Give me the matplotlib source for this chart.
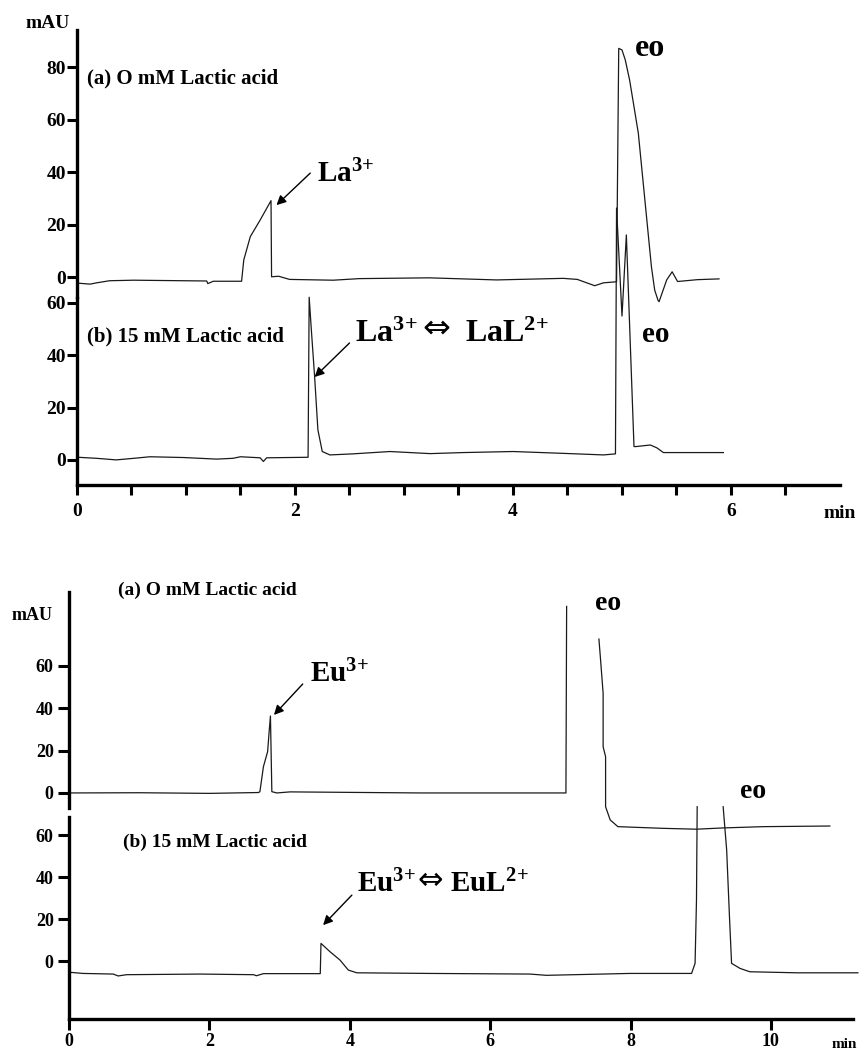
import numpy as np
import matplotlib.pyplot as plt

plt.rcParams['font.family'] = ['Liberation Serif', 'DejaVu Serif']
plt.rcParams['font.weight'] = 'bold'
plt.rcParams['mathtext.fontset'] = 'custom'
plt.rcParams['mathtext.rm'] = 'Liberation Serif:bold'
plt.rcParams['mathtext.bf'] = 'Liberation Serif:bold'
plt.rcParams['mathtext.it'] = 'Liberation Serif:bold'

nan = np.nan

# La3+ electropherograms, 0 mM lactic acid (trace a)
la_a_t = [0.0, 0.12, 0.18, 0.30, 0.52, 1.19, 1.20, 1.25, 1.51, 1.53, 1.59, 1.68, 1.78,
          1.785, 1.85, 1.95, 2.35, 2.59, 3.23, 3.85, 4.46, 4.59, 4.75, 4.83, 4.95,
          4.97, 5.00, 5.03, 5.07, 5.11, 5.15, 5.18, 5.21, 5.24, 5.27, 5.30, 5.33, 5.34,
          5.41, 5.46, 5.51, 5.69, 5.89]
la_a_y = [-2.3, -2.7, -2.2, -1.4, -1.2, -1.5, -2.5, -1.6, -1.6, 6.5, 15.4, 21.7, 29.1,
          0.1, 0.3, -0.9, -1.2, -0.6, -0.3, -1.1, -0.5, -0.9, -3.3, -2.2, -1.8,
          87.1, 86.5, 82.7, 75.0, 64.9, 54.7, 42.0, 29.3, 16.6, 3.9, -5.0, -8.8, -9.4,
          -1.1, 2.0, -1.7, -1.0, -0.7]

# La3+, 15 mM lactic acid (trace b)
la_b_t = [0.01, 0.18, 0.36, 0.52, 0.67, 0.98, 1.28, 1.43, 1.50, 1.68, 1.71, 1.74, 2.12,
          2.13, 2.15, 2.18, 2.21, 2.25, 2.32, 2.53, 2.87, 3.24, 3.54, 4.00, 4.46, 4.83,
          4.94, 4.95, 5.00, 5.04, 5.11, 5.13, 5.26, 5.32, 5.38, 5.69, 5.93]
la_b_y = [1.0, 0.6, 0.0, 0.6, 1.2, 0.9, 0.3, 0.6, 1.2, 0.8, -0.6, 0.8, 1.0,
          62.2, 49.7, 31.8, 11.5, 3.2, 1.9, 2.3, 3.2, 2.4, 2.8, 3.2, 2.5, 1.9,
          2.3, 96.3, 55.0, 86.0, 5.1, 5.1, 5.7, 4.6, 2.8, 2.8, 2.8]

# Eu3+, 0 mM lactic acid (trace a)
eu_a_t = [0.0, 1.0, 2.0, 2.70, 2.72, 2.77, 2.83, 2.85, 2.87, 2.89, 2.96, 3.15, 5.0, 7.08,
          7.09, 7.09, 7.55, 7.57, 7.61, 7.61, 7.645, 7.645, 7.71, 7.82, 8.47, 8.94, 9.32,
          9.89, 10.84]
eu_a_y = [0.0, 0.1, -0.2, 0.2, 0.6, 12.4, 19.5, 28.3, 36.3, 0.6, 0.0, 0.5, 0.0, 0.0,
          88.0, nan, 72.6, 64.3, 47.0, 21.8, 17.1, -6.5, -12.7, -15.9, -16.7, -17.1, -16.5,
          -15.9, -15.6]

# Eu3+, 15 mM lactic acid (trace b)
eu_b_t = [0.02, 0.03, 0.20, 0.63, 0.70, 0.82, 1.87, 2.63, 2.67, 2.77, 3.58, 3.59, 3.72,
          3.86, 3.98, 4.10, 5.14, 6.57, 6.80, 7.99, 8.87, 8.92, 8.94, 8.95, 8.95, 9.32,
          9.37, 9.41, 9.44, 9.56, 9.70, 10.37, 11.24]
eu_b_y = [-5.9, -5.4, -5.9, -6.2, -7.1, -6.5, -6.2, -6.5, -7.0, -6.0, -6.0, 8.4, 4.4,
          0.5, -4.3, -5.6, -5.9, -6.2, -6.8, -5.9, -5.9, -1.1, 29.0, 73.5, nan, 73.5,
          52.9, 21.1, -1.1, -3.5, -5.1, -5.6, -5.6]

W, H = 862, 1052
fig = plt.figure(figsize=(W / 100, H / 100), dpi=100)


def box(l, t, r, b):
    return [l / W, 1 - b / H, (r - l) / W, (b - t) / H]


ax1 = fig.add_axes(box(77, 30, 840, 297))
ax2 = fig.add_axes(box(77, 298, 840, 485))
ax3 = fig.add_axes(box(69, 592, 853, 808))
ax4 = fig.add_axes(box(69, 817, 853, 1019))

line_kw = dict(color='#1a1a1a', lw=0.9, clip_on=False)
ax1.plot(la_a_t, la_a_y, **line_kw)
ax2.plot(la_b_t, la_b_y, **line_kw)
ax3.plot(eu_a_t, eu_a_y, **line_kw)
ax4.plot(eu_b_t, eu_b_y, **line_kw)

ax1.set_ylim(-7.6, 94.1)
ax2.set_ylim(-9.6, 61.9)
ax3.set_ylim(-7.1, 94.8)
ax4.set_ylim(-27.6, 68.6)
for ax in (ax1, ax2):
    ax.set_xlim(0, 7.0)
for ax in (ax3, ax4):
    ax.set_xlim(0, 11.17)

for ax in (ax1, ax2, ax3, ax4):
    ax.set_facecolor('none')
    ax.spines['top'].set_visible(False)
    ax.spines['right'].set_visible(False)
    ax.spines['left'].set_linewidth(2.4)
    ax.spines['bottom'].set_linewidth(2.4)
for ax in (ax1, ax3):
    ax.spines['bottom'].set_visible(False)
    ax.set_xticks([])

ax1.set_yticks([0, 20, 40, 60, 80])
ax2.set_yticks([0, 20, 40, 60])
ax3.set_yticks([0, 20, 40, 60])
ax4.set_yticks([0, 20, 40, 60])

top_ticks = np.arange(0, 7.0, 0.5)
ax2.set_xticks(top_ticks)
ax2.set_xticklabels([('%d' % v if v % 2 == 0 else '') for v in top_ticks])
ax4.set_xticks([0, 2, 4, 6, 8, 10])

for ax in (ax1, ax2):
    ax.tick_params(axis='both', direction='out', length=7, width=2.2, labelsize=14, pad=1)
    ax.tick_params(axis='x', pad=6)
for ax in (ax3, ax4):
    ax.tick_params(axis='both', direction='out', length=8, width=2.2, labelsize=13, pad=3)
    ax.tick_params(axis='x', pad=2)
for ax in (ax1, ax2, ax3, ax4):
    for lab in ax.get_xticklabels() + ax.get_yticklabels():
        lab.set_fontweight('bold')

arrow_kw = dict(arrowstyle='-|>', color='k', lw=1, mutation_scale=14, shrinkA=0, shrinkB=0)
dbl = dict(family=['DejaVu Sans'], fontweight='normal', ha='center', va='center')

# labels and annotations
fig.text(48 / W, 1 - 23 / H, 'mAU', ha='center', va='center', fontsize=14, fontweight='bold')
fig.text(840 / W, 1 - 513 / H, 'min', ha='center', va='center', fontsize=14, fontweight='bold')
fig.text(32 / W, 1 - 616 / H, 'mAU', ha='center', va='center', fontsize=13, fontweight='bold')
fig.text(844 / W, 1 - 1045 / H, 'min', ha='center', va='center', fontsize=11, fontweight='bold')

ax1.text(0.09, 75.8, '(a) O mM Lactic acid', ha='left', va='center', fontsize=15, fontweight='bold')
ax1.text(2.20, 36.2, r'La$^{3\!+}$', ha='left', va='baseline', fontsize=21, fontweight='bold')
ax1.text(5.12, 84.2, 'eo', ha='left', va='baseline', fontsize=23, fontweight='bold')
ax1.annotate('', xy=(1.83, 27.4), xytext=(2.14, 39.6), arrowprops=arrow_kw)

ax2.text(0.09, 47, '(b) 15 mM Lactic acid', ha='left', va='center', fontsize=15, fontweight='bold')
ax2.text(2.55, 45.1, r'La$^{3\!+}$', ha='left', va='baseline', fontsize=23, fontweight='bold')
ax2.text(3.30, 50.3, '\u21d4', fontsize=24, **dbl)
ax2.text(3.56, 45.1, r'LaL$^{2\!+}$', ha='left', va='baseline', fontsize=23, fontweight='bold')
ax2.text(5.18, 45.1, 'eo', ha='left', va='baseline', fontsize=21, fontweight='bold')
ax2.annotate('', xy=(2.18, 31.7), xytext=(2.50, 44.7), arrowprops=arrow_kw)

ax3.text(0.70, 95.8, '(a) O mM Lactic acid', ha='left', va='center', fontsize=14, fontweight='bold')
ax3.text(3.43, 52.4, r'Eu$^{3\!+}$', ha='left', va='baseline', fontsize=21, fontweight='bold')
ax3.text(7.49, 86.3, 'eo', ha='left', va='baseline', fontsize=20, fontweight='bold')
ax3.annotate('', xy=(2.92, 36.8), xytext=(3.33, 51.4), arrowprops=arrow_kw)

ax4.text(0.77, 56.7, '(b) 15 mM Lactic acid', ha='left', va='center', fontsize=14, fontweight='bold')
ax4.text(4.10, 32.9, r'Eu$^{3\!+}$', ha='left', va='baseline', fontsize=21, fontweight='bold')
ax4.text(5.15, 38.6, '\u21d4', fontsize=22, **dbl)
ax4.text(5.43, 32.9, r'EuL$^{2\!+}$', ha='left', va='baseline', fontsize=21, fontweight='bold')
ax4.text(9.56, 77.6, 'eo', ha='left', va='baseline', fontsize=20, fontweight='bold')
ax4.annotate('', xy=(3.62, 17.1), xytext=(4.03, 31.4), arrowprops=arrow_kw)

fig.savefig('out.png', dpi=100)
